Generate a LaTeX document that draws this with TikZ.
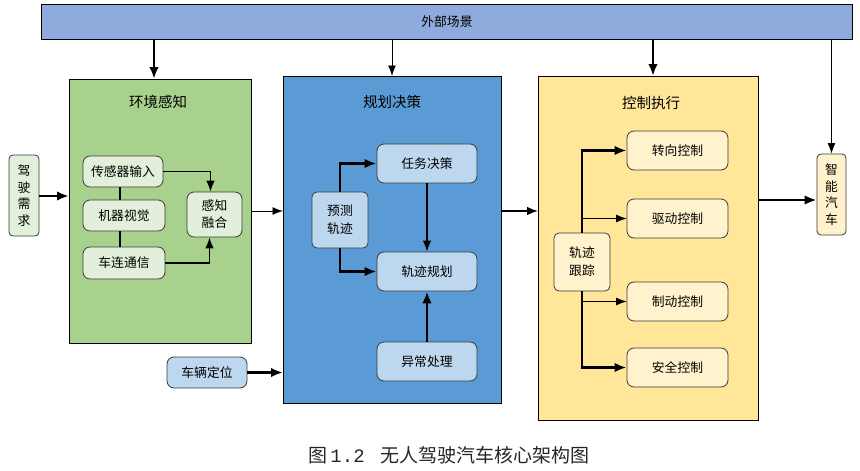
\documentclass[tikz,border=0pt]{standalone}
\usepackage{fontspec}
\setmainfont{Noto Sans CJK SC}
\newfontfamily\capnum{Liberation Mono}
\usetikzlibrary{arrows.meta}
\definecolor{barc}{HTML}{8FAADC}
\definecolor{greenc}{HTML}{A9D18E}
\definecolor{greenl}{HTML}{E2EFDA}
\definecolor{bluec}{HTML}{5B9BD5}
\definecolor{bluel}{HTML}{BDD7EE}
\definecolor{yelc}{HTML}{FFE699}
\definecolor{yell}{HTML}{FFF2CC}
\definecolor{edgec}{HTML}{3A3A3A}
\begin{document}
\begin{tikzpicture}[x=1pt,y=-1pt,
  outer/.style={draw=black,line width=0.9pt,anchor=north west,inner sep=0pt},
  ttl/.style={font=\fontsize{14.5}{16}\selectfont},
  inner/.style={draw=edgec,line width=0.8pt,rounded corners=7pt,inner sep=0pt,
    font=\fontsize{12.8}{16}\selectfont,align=center},
  vert/.style={draw=edgec,line width=0.8pt,rounded corners=4pt,inner sep=0pt,
    font=\fontsize{12.8}{16.5}\selectfont,align=center},
  thk/.style={line width=2.4pt,-{Latex[length=12pt,width=9.5pt]}},
  thkline/.style={line width=2.4pt},
  med/.style={line width=1.3pt,-{Latex[length=11pt,width=8.5pt]}},
  thn/.style={line width=0.9pt,-{Latex[length=10.5pt,width=8pt]}}
]
\useasboundingbox (0,0) rectangle (860,471);
% outer boxes
\node[outer,fill=barc,minimum width=811pt,minimum height=35pt] (top) at (41,4) {};
\node[font=\fontsize{12.8}{14}\selectfont] (toptxt) at (top.center) {外部场景};
\node[outer,fill=greenc,minimum width=182pt,minimum height=264pt] (green) at (69,79) {};
\node[outer,fill=bluec,minimum width=218pt,minimum height=327pt] (blue) at (283,76) {};
\node[outer,fill=yelc,minimum width=220pt,minimum height=344pt] (yel) at (538,76) {};
\node[ttl] (gt) at (158,102) {环境感知};
\node[ttl] (bt) at (392,102) {规划决策};
\node[ttl] (yt) at (651,103) {控制执行};
% side nodes
\node[vert,fill=greenl,minimum width=30pt,minimum height=81pt] (req) at (24,195.5) {驾\\驶\\需\\求};
\node[vert,fill=yell,minimum width=29pt,minimum height=81pt] (car) at (831.5,194.5) {智\\能\\汽\\车};
% green inner
\node[inner,fill=greenl,minimum width=80pt,minimum height=31pt] (sensor) at (123,171.5) {传感器输入};
\node[inner,fill=greenl,minimum width=82pt,minimum height=31pt] (vision) at (124,215.5) {机器视觉};
\node[inner,fill=greenl,minimum width=82pt,minimum height=32pt] (v2x) at (124,263) {车连通信};
\node[inner,fill=greenl,minimum width=55pt,minimum height=45pt,font=\fontsize{12.8}{17}\selectfont] (fusion) at (214.5,214.5) {感知\\融合};
% blue inner
\node[inner,fill=bluel,minimum width=100pt,minimum height=39pt] (task) at (427,163.5) {任务决策};
\node[inner,fill=bluel,minimum width=56pt,minimum height=56pt,rounded corners=5pt,font=\fontsize{12.8}{18}\selectfont] (pred) at (340,220) {预测\\轨迹};
\node[inner,fill=bluel,minimum width=100pt,minimum height=39pt] (plan) at (427,271.5) {轨迹规划};
\node[inner,fill=bluel,minimum width=100pt,minimum height=39pt] (exc) at (427,361.5) {异常处理};
\node[inner,fill=bluel,minimum width=80pt,minimum height=31pt] (loc) at (207,372.5) {车辆定位};
% yellow inner
\node[inner,fill=yell,minimum width=56pt,minimum height=58pt,rounded corners=5pt,font=\fontsize{12.8}{18}\selectfont] (track) at (582,262) {轨迹\\跟踪};
\node[inner,fill=yell,minimum width=101pt,minimum height=39pt] (steer) at (677.5,150.5) {转向控制};
\node[inner,fill=yell,minimum width=101pt,minimum height=39pt] (drive) at (677.5,218.5) {驱动控制};
\node[inner,fill=yell,minimum width=101pt,minimum height=39pt] (brake) at (677.5,301.5) {制动控制};
\node[inner,fill=yell,minimum width=101pt,minimum height=39pt] (safe) at (677.5,367.5) {安全控制};
% helper coordinates
\coordinate (x154) at (154,0);
\coordinate (x392) at (392,0);
\coordinate (x653) at (653,0);
\coordinate (y211) at (0,211);
\coordinate (y200) at (0,200);
\coordinate (y196) at (0,196);
% top bar arrows
\draw[thk] (top.south -| x154) -- (green.north -| x154);
\draw[thn] (top.south -| x392) -- (blue.north -| x392);
\draw[thk] (top.south -| x653) -- (yel.north -| x653);
\draw[thn] (top.south -| car.north) -- (car.north);
% green connections
\draw[thkline] ([xshift=-3pt]sensor.south) -- ([xshift=-3pt]sensor.south |- vision.north);
\draw[thkline] ([xshift=-4pt]vision.south) -- ([xshift=-4pt]vision.south |- v2x.north);
\draw[med] (sensor.east) -| ([xshift=-4pt]fusion.north);
\draw[med] (v2x.east) -| ([xshift=-5pt]fusion.south);
\draw[thk] (req.east |- y196) -- (green.west |- y196);
\draw[thn] (green.east |- y211) -- (blue.west |- y211);
\draw[thk] (loc.east) -- (loc.east -| blue.west);
% blue connections
\draw[thk] (pred.north) |- (task.west);
\draw[thk] (pred.south) |- (plan.west);
\draw[med] (task.south) -- (plan.north);
\draw[thk] (exc.north) -- (plan.south);
\draw[med] (blue.east |- y211) -- (yel.west |- y211);
% yellow connections
\draw[thk] (track.north) |- (steer.west);
\draw[thn] (track.north |- drive.west) -- (drive.west);
\draw[thk] (track.south) |- (safe.west);
\draw[thn] (track.south |- brake.west) -- (brake.west);
\draw[thk] (yel.east |- y200) -- (car.west |- y200);
% caption
\node[font=\fontsize{19}{22}\selectfont,text=black!85] (cap) at (449,455) {图\,{\capnum 1.2}\hspace{16pt}无人驾驶汽车核心架构图};
\end{tikzpicture}
\end{document}
